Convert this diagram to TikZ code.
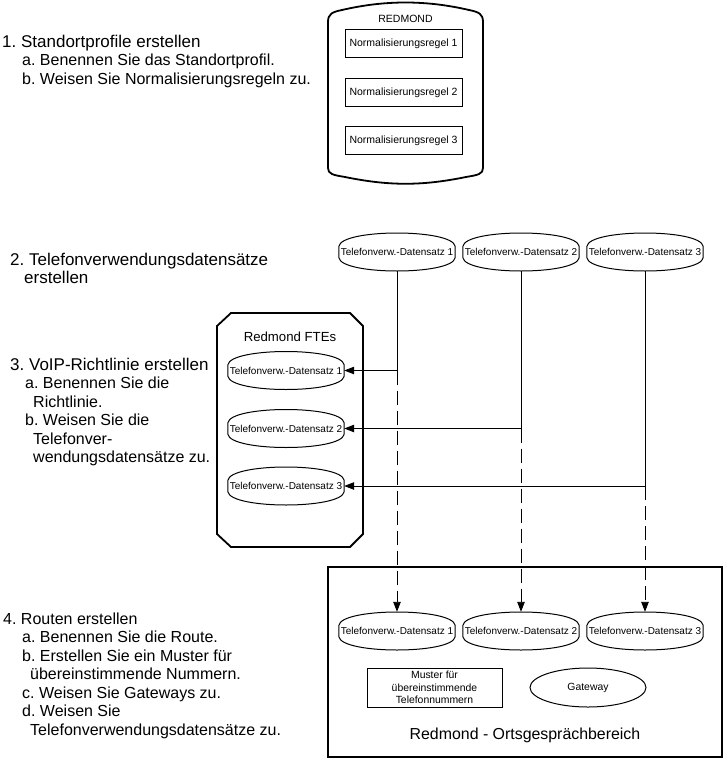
\documentclass[tikz,border=0pt]{standalone}
\usepackage{fontspec}
\setmainfont{Liberation Sans}
\usetikzlibrary{arrows.meta,shapes.geometric}
\frenchspacing

\newcommand{\stepfont}{\fontsize{17}{18.5}\selectfont}
\newcommand{\subfont}{\fontsize{16}{18.5}\selectfont}

\tikzset{
  container/.style={line width=1.8pt},
  disk/.style={minimum width=116pt, minimum height=38pt, inner sep=0pt, font=\fontsize{10}{11}\selectfont},
  regelbox/.style={draw, line width=1pt, minimum width=117pt, minimum height=28pt, inner sep=0pt, font=\fontsize{10.5}{12}\selectfont},
  steptext/.style={anchor=north west, align=left, inner sep=0pt, font=\stepfont},
  line/.style={line width=0.9pt},
  link/.style={line, -{Triangle[length=10pt,width=7.5pt]}},
  dashlink/.style={link, dash pattern=on 14pt off 6pt},
}

\begin{document}
\begin{tikzpicture}[x=1pt, y=-1pt]
  \useasboundingbox (0,0) rectangle (724,766);

  % steps on the left
  \node[steptext] (s1) at (2,34.5) {1. Standortprofile erstellen\\
    \hspace*{20pt}{\subfont a. Benennen Sie das Standortprofil.}\\
    \hspace*{20pt}{\subfont b. Weisen Sie Normalisierungsregeln zu.}};
  \node[steptext] (s2) at (10,252.6) {2. Telefonverwendungsdatensätze\\
    \hspace*{14pt}erstellen};
  \node[steptext] (s3) at (10,357.6) {3. VoIP-Richtlinie erstellen\\
    \hspace*{15pt}{\subfont a. Benennen Sie die}\\
    \hspace*{23pt}{\subfont Richtlinie.}\\
    \hspace*{15pt}{\subfont b. Weisen Sie die}\\
    \hspace*{23pt}{\subfont Telefonver-}\\
    \hspace*{23pt}{\subfont wendungsdatensätze zu.}};
  \node[steptext, font=\subfont] (s4) at (3,612.6) {4. Routen erstellen\\
    \hspace*{19pt}a. Benennen Sie die Route.\\
    \hspace*{19pt}b. Erstellen Sie ein Muster für\\
    \hspace*{27pt}übereinstimmende Nummern.\\
    \hspace*{19pt}c. Weisen Sie Gateways zu.\\
    \hspace*{19pt}d. Weisen Sie\\
    \hspace*{27pt}Telefonverwendungsdatensätze zu.};

  % standortprofil
  \draw[container] (328,168) -- (328,22) .. controls (328,14) and (332,12) .. (342,10)
    .. controls (385,0) and (426,0) .. (469,10) .. controls (479,12) and (483,14) .. (483,22)
    -- (483,168) .. controls (483,174) and (478,175) .. (466,177)
    .. controls (422,186) and (389,186) .. (345,177) .. controls (333,175) and (328,174) .. cycle;
  \node[font=\fontsize{10.5}{12}\selectfont] (redmond) at (405.5,18.5) {REDMOND};
  \node[regelbox] (r1) at (403.5,43.5) {Normalisierungsregel 1};
  \node[regelbox] (r2) at (403.5,92.5) {Normalisierungsregel 2};
  \node[regelbox] (r3) at (403.5,140.5) {Normalisierungsregel 3};

  % telefonverwendungsdatensaetze
  \node[disk] (t1) at (397,252) {Telefonverw.-Datensatz 1};
  \node[disk] (t2) at (521,252) {Telefonverw.-Datensatz 2};
  \node[disk] (t3) at (645,252) {Telefonverw.-Datensatz 3};

  % voip-richtlinie
  \draw[container] (217,326) -- (231,313) -- (350,313) -- (363,326) -- (363,534)
    -- (350,547) -- (231,547) -- (217,534) -- cycle;
  \node[font=\fontsize{13.2}{15}\selectfont] (ftes) at (290,337) {Redmond FTEs};
  \node[disk] (f1) at (286,370.5) {Telefonverw.-Datensatz 1};
  \node[disk] (f2) at (286,428.5) {Telefonverw.-Datensatz 2};
  \node[disk] (f3) at (286,486) {Telefonverw.-Datensatz 3};

  % route
  \draw[container] (328,567) rectangle (722,757);
  \node[disk] (b1) at (397,631) {Telefonverw.-Datensatz 1};
  \node[disk] (b2) at (521,631) {Telefonverw.-Datensatz 2};
  \node[disk] (b3) at (645,631) {Telefonverw.-Datensatz 3};
  \node[draw, line width=1pt, minimum width=135pt, minimum height=39pt, inner sep=0pt,
    align=center, font=\fontsize{10.4}{12.5}\selectfont] (muster) at (434.5,687.5)
    {Muster für\\übereinstimmende\\Telefonnummern};
  \node[draw, ellipse, line width=1pt, minimum width=116pt, minimum height=39pt, inner sep=0pt,
    font=\fontsize{10.4}{12.5}\selectfont] (gateway) at (588,687.5) {Gateway};
  \node[font=\fontsize{15.9}{18}\selectfont] (ort) at (525,735) {Redmond - Ortsgesprächbereich};

  \foreach \d in {t1,t2,t3,f1,f2,f3,b1,b2,b3}
    \draw[line width=1pt] ([yshift=-5.5pt]\d.west) -- ([yshift=5.5pt]\d.west)
      .. controls +(2,-18) and +(-2,-18) .. ([yshift=5.5pt]\d.east)
      -- ([yshift=-5.5pt]\d.east)
      .. controls +(-2,18) and +(2,18) .. ([yshift=-5.5pt]\d.west) -- cycle;

  % connectors
  \foreach \i in {1,2,3} {
    \coordinate (j\i) at (t\i |- f\i);
    \draw[line] (t\i.south) -- (j\i);
    \draw[link] (j\i) -- (f\i.east);
    \draw[dashlink] (j\i) -- (b\i.north);
  }
\end{tikzpicture}
\end{document}
